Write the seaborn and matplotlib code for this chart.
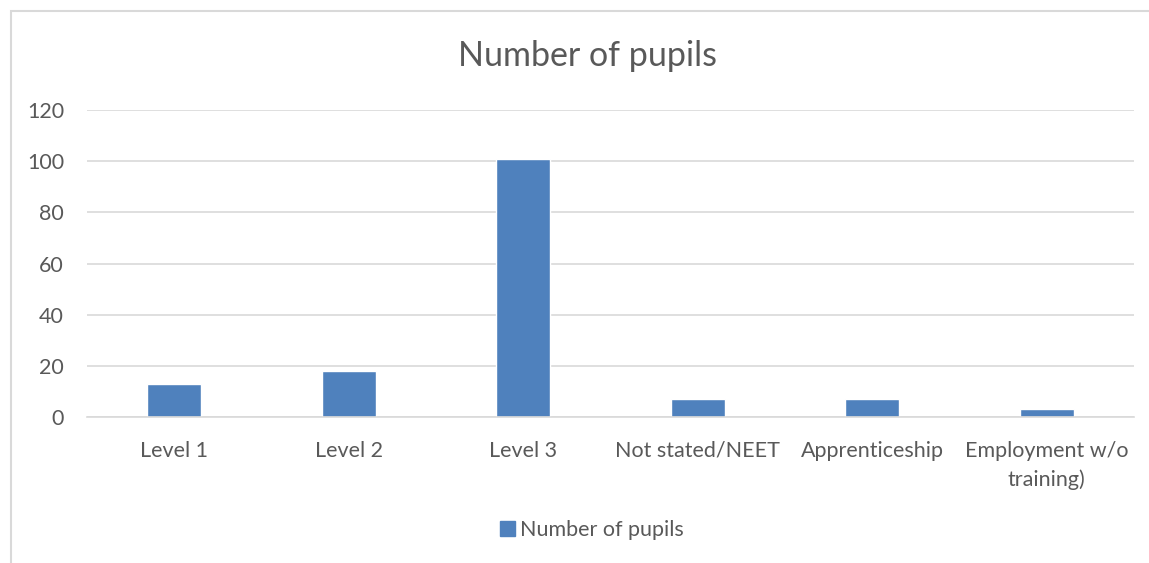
import matplotlib
matplotlib.use("Agg")
import matplotlib.pyplot as plt
import seaborn as sns
import pandas as pd
from matplotlib.patches import Rectangle, Patch

categories = ["Level 1", "Level 2", "Level 3", "Not stated/NEET", "Apprenticeship", "Employment w/o\ntraining)"]
values = [13, 18, 101, 7, 7, 3]
series_name = "Number of pupils"
yticks = [0, 20, 40, 60, 80, 100, 120]

sns.set_theme(style="white")
plt.rcParams['font.family'] = ['Lato', 'DejaVu Sans']

text_color = "#595959"
grid_color = "#D9D9D9"
bar_color = "#4F81BD"

fig = plt.figure(figsize=(11.49, 5.63), dpi=100)
ax = fig.add_axes([87/1149, 1 - 417/563, (1134 - 87)/1149, (417 - 110)/563])

df = pd.DataFrame({"cat": categories, "val": values})
sns.barplot(data=df, x="cat", y="val", color=bar_color, saturation=1, width=0.31, ax=ax)

ax.set_ylim(0, 120)
ax.set_yticks(yticks)
ax.set_xlim(-0.5, len(categories) - 0.5)
ax.yaxis.grid(True, color=grid_color, linewidth=1.2)
ax.set_axisbelow(True)
for s in ["top", "right", "left"]:
    ax.spines[s].set_visible(False)
ax.spines["bottom"].set_color(grid_color)
ax.spines["bottom"].set_linewidth(1.2)
ax.set_xlabel("")
ax.set_ylabel("")
ax.tick_params(axis="both", length=0, labelsize=15.5, colors=text_color)
ax.tick_params(axis="x", pad=17)
ax.tick_params(axis="y", pad=16.5)
for lbl in ax.get_xticklabels():
    lbl.set_horizontalalignment("center")
    lbl.set_verticalalignment("top")
    lbl.set_multialignment("center")
    lbl.set_linespacing(1.5)

fig.text(587/1149, 1 - 56/563, "Number of pupils", ha="center", va="center",
         fontsize=24.5, color=text_color)

handle = Patch(facecolor=bar_color, edgecolor=bar_color, label=series_name)
fig.legend(handles=[handle], loc="center", bbox_to_anchor=(592/1149, 1 - 530/563),
           frameon=False, fontsize=15.5, labelcolor=text_color,
           handlelength=0.7, handleheight=0.7, handletextpad=0.25)

fig.add_artist(Rectangle((11/1149, -0.1), 1.2, 1 - 11/563 + 0.1, transform=fig.transFigure,
                         fill=False, edgecolor=grid_color, linewidth=1.5))

fig.savefig("out.png", dpi=100)
